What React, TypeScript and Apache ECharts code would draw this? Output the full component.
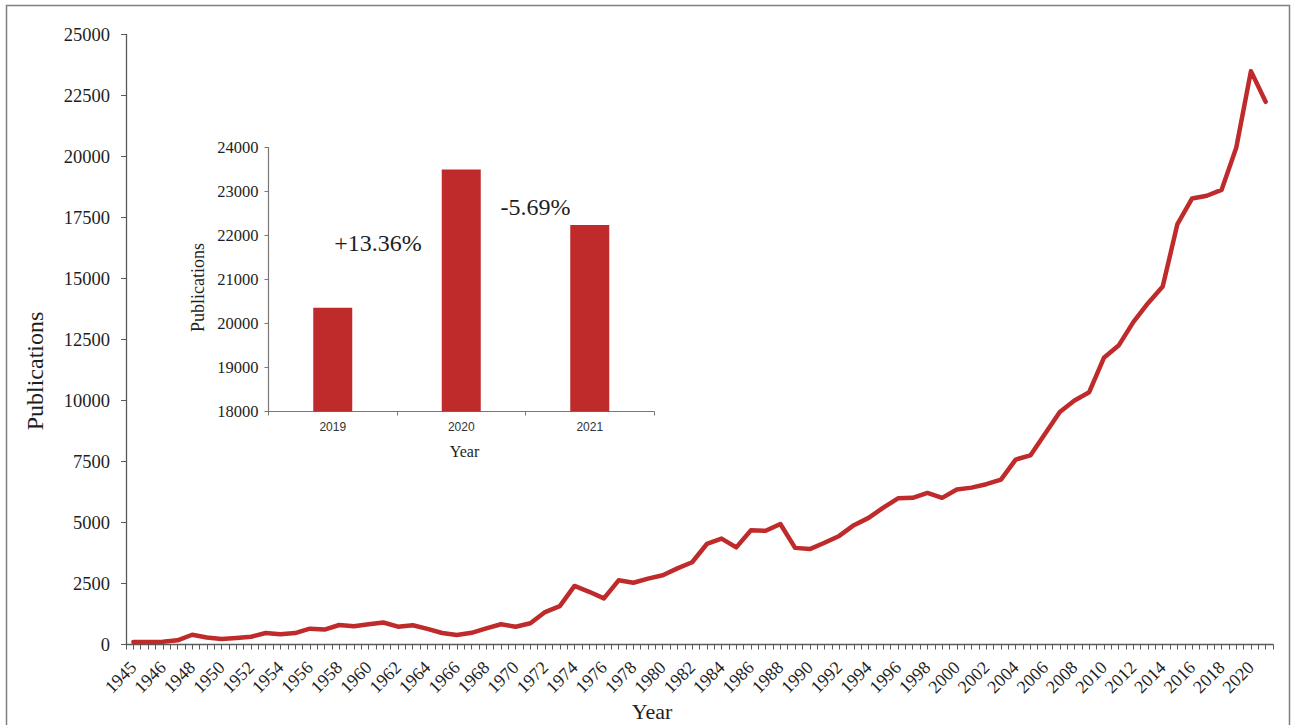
import React, { useEffect, useRef } from "react";
import * as echarts from "echarts";

// x categories of the main chart (first slot is labelled 1945 in the source figure)
const categories: string[] = ["1945", "1945", "1946", "1947", "1948", "1949", "1950", "1951", "1952", "1953", "1954", "1955", "1956", "1957", "1958", "1959", "1960", "1961", "1962", "1963", "1964", "1965", "1966", "1967", "1968", "1969", "1970", "1971", "1972", "1973", "1974", "1975", "1976", "1977", "1978", "1979", "1980", "1981", "1982", "1983", "1984", "1985", "1986", "1987", "1988", "1989", "1990", "1991", "1992", "1993", "1994", "1995", "1996", "1997", "1998", "1999", "2000", "2001", "2002", "2003", "2004", "2005", "2006", "2007", "2008", "2009", "2010", "2011", "2012", "2013", "2014", "2015", "2016", "2017", "2018", "2019", "2020", "2021"];

const publications: number[] = [100, 100, 110, 170, 400, 290, 230, 270, 320, 470, 420, 470, 650, 610, 800, 750, 830, 900, 730, 790, 640, 470, 390, 480, 660, 830, 730, 870, 1330, 1570, 2400, 2160, 1890, 2630, 2530, 2700, 2840, 3120, 3370, 4120, 4340, 3980, 4680, 4660, 4940, 3960, 3910, 4170, 4450, 4890, 5190, 5610, 5990, 6010, 6210, 6010, 6350, 6430, 6570, 6760, 7580, 7750, 8640, 9530, 10000, 10340, 11750, 12250, 13210, 13990, 14670, 17230, 18280, 18390, 18630, 20360, 23500, 22240];

const insetYears: string[] = ["2019", "2020", "2021"];
const insetValues: number[] = publications.slice(-3);
const changeLabels: string[] = ["+13.36%", "-5.69%"];

const RED = "#bf2a2b";
const AXIS = "#595959";
const TEXT = "#1e1e1e";
const SERIF = "'Liberation Serif', 'Times New Roman', serif";
const SANS = "'Liberation Sans', Arial, sans-serif";

export default function App() {
  const ref = useRef<HTMLDivElement>(null);
  useEffect(() => {
    if (!ref.current) return;
    const chart = echarts.init(ref.current, undefined, { renderer: "svg" });
    chart.setOption({
      animation: false,
      backgroundColor: "#ffffff",
      grid: [
        { left: 126, right: 19, top: 34.5, bottom: 80.5 },
        { left: 268.5, top: 147.5, width: 385.5, height: 264 },
      ],
      xAxis: [
        {
          gridIndex: 0,
          type: "category",
          data: categories,
          boundaryGap: true,
          position: "bottom",
          axisLine: { lineStyle: { color: AXIS, width: 1.3 } },
          axisTick: { show: true, interval: 0, alignWithLabel: false, length: 5, lineStyle: { color: AXIS, width: 1 } },
          axisLabel: { interval: 1, rotate: 45, margin: 20, fontSize: 18, fontFamily: SERIF, color: TEXT },
          splitLine: { show: false },
        },
        {
          gridIndex: 0,
          type: "category",
          data: categories,
          boundaryGap: true,
          position: "bottom",
          axisLine: { show: false },
          axisTick: { show: true, interval: 0, alignWithLabel: true, length: 5, lineStyle: { color: AXIS, width: 1 } },
          axisLabel: { show: false },
          splitLine: { show: false },
        },
        {
          gridIndex: 1,
          type: "category",
          data: insetYears,
          boundaryGap: true,
          axisLine: { lineStyle: { color: "#777777", width: 1.2 } },
          axisTick: { show: true, length: 4, lineStyle: { color: "#777777" } },
          axisLabel: { margin: 9, fontSize: 12, fontFamily: SANS, color: "#333333" },
          splitLine: { show: false },
        },
      ],
      yAxis: [
        {
          gridIndex: 0,
          type: "value",
          min: 0,
          max: 25000,
          interval: 2500,
          axisLine: { show: true, lineStyle: { color: AXIS, width: 1.3 } },
          axisTick: { show: true, length: 5, lineStyle: { color: AXIS } },
          axisLabel: { margin: 16, fontSize: 18.5, fontFamily: SERIF, color: TEXT, formatter: (v: number) => String(v) },
          splitLine: { show: false },
        },
        {
          gridIndex: 1,
          type: "value",
          min: 18000,
          max: 24000,
          interval: 1000,
          axisLine: { show: true, lineStyle: { color: "#777777", width: 1.2 } },
          axisTick: { show: true, length: 4, lineStyle: { color: "#777777" } },
          axisLabel: { margin: 10, fontSize: 16.5, fontFamily: SERIF, color: TEXT, formatter: (v: number) => String(v) },
          splitLine: { show: false },
        },
      ],
      series: [
        {
          type: "line",
          xAxisIndex: 0,
          yAxisIndex: 0,
          data: publications,
          symbol: "none",
          lineStyle: { color: RED, width: 4.5, cap: "round", join: "round" },
          z: 3,
        },
        {
          type: "bar",
          xAxisIndex: 2,
          yAxisIndex: 1,
          data: insetValues,
          barWidth: 39,
          itemStyle: { color: RED },
        },
      ],
      graphic: [
        {
          type: "rect",
          shape: { x: 6.5, y: 5.5, width: 1283, height: 740 },
          style: { fill: "none", stroke: "#7f7f7f", lineWidth: 1.5 },
          silent: true,
        },
        {
          type: "text",
          x: 35,
          y: 371,
          rotation: Math.PI / 2,
          style: { text: "Publications", fontSize: 24, fontFamily: SERIF, fill: TEXT, align: "center", verticalAlign: "middle" },
        },
        {
          type: "text",
          x: 652,
          y: 711,
          style: { text: "Year", fontSize: 22, fontFamily: SERIF, fill: TEXT, align: "center", verticalAlign: "middle" },
        },
        {
          type: "text",
          x: 198,
          y: 287.5,
          rotation: Math.PI / 2,
          style: { text: "Publications", fontSize: 18, fontFamily: SERIF, fill: TEXT, align: "center", verticalAlign: "middle" },
        },
        {
          type: "text",
          x: 464.5,
          y: 451,
          style: { text: "Year", fontSize: 16, fontFamily: SERIF, fill: TEXT, align: "center", verticalAlign: "middle" },
        },
        {
          type: "text",
          x: 378,
          y: 243,
          style: { text: changeLabels[0], fontSize: 24, fontFamily: SERIF, fill: TEXT, align: "center", verticalAlign: "middle" },
        },
        {
          type: "text",
          x: 535.5,
          y: 207,
          style: { text: changeLabels[1], fontSize: 24, fontFamily: SERIF, fill: TEXT, align: "center", verticalAlign: "middle" },
        },
      ],
    });
    return () => chart.dispose();
  }, []);
  return <div ref={ref} style={{ position: "absolute", left: 0, top: 0, width: 1292, height: 725 }} />;
}
